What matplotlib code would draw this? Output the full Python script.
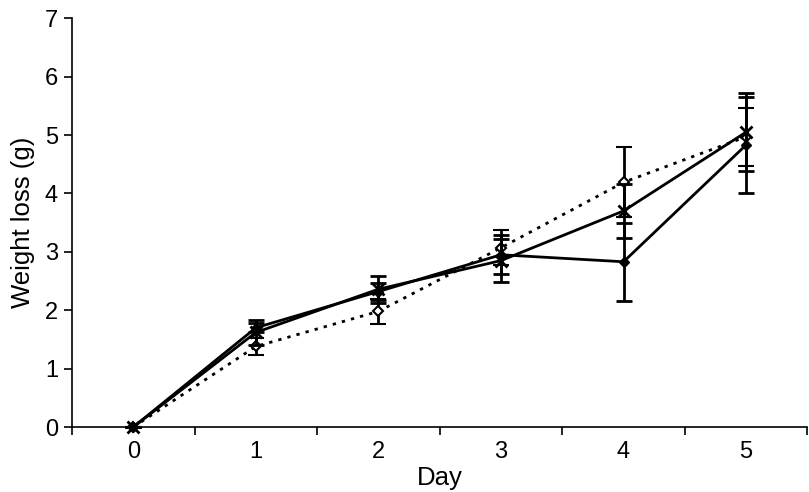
import matplotlib.pyplot as plt
import numpy as np

days = [0, 1, 2, 3, 4, 5]

# filled diamond, solid line
loss_a = [0, 1.70, 2.32, 2.95, 2.83, 4.83]
err_a = [0, 0.08, 0.15, 0.33, 0.67, 0.82]
# cross, solid line
loss_b = [0, 1.62, 2.36, 2.85, 3.70, 5.05]
err_b = [0, 0.22, 0.23, 0.37, 0.46, 0.67]
# open diamond, dotted line
loss_c = [0, 1.38, 1.98, 3.07, 4.19, 4.97]
err_c = [0, 0.15, 0.22, 0.30, 0.60, 0.50]

plt.rcParams['font.family'] = ['Liberation Sans', 'DejaVu Sans']

fig = plt.figure(figsize=(8.09, 4.92), dpi=100)
ax = fig.add_axes([0.089, 0.132, 0.909, 0.831])

x = np.array(days)
ax.errorbar(x, loss_c, yerr=err_c, color='black', linestyle=(0, (1.2, 2.2)),
            linewidth=2, marker='D', markersize=5.5, markerfacecolor='white',
            markeredgewidth=1.5, capsize=6, capthick=2, elinewidth=2, zorder=3)
ax.errorbar(x, loss_a, yerr=err_a, color='black', linestyle='-',
            linewidth=2, marker='D', markersize=5.5, markerfacecolor='black',
            capsize=6, capthick=2, elinewidth=2, zorder=4)
ax.errorbar(x, loss_b, yerr=err_b, color='black', linestyle='-',
            linewidth=2, marker='x', markersize=9, markeredgewidth=2,
            capsize=6, capthick=2, elinewidth=2, zorder=5)

ax.set_xlim(-0.5, 5.5)
ax.set_ylim(0, 7)
ax.set_yticks(range(0, 8))
ax.set_xticks(days)
ax.set_xticks(np.arange(-0.5, 5.6, 1), minor=True)
ax.tick_params(axis='x', which='major', length=0, labelsize=17, pad=10)
ax.tick_params(axis='x', which='minor', length=6, width=1.2, direction='out')
ax.tick_params(axis='y', length=6, width=1.2, labelsize=17, pad=4)

for s in ['top', 'right']:
    ax.spines[s].set_visible(False)
ax.spines['left'].set_linewidth(1.2)
ax.spines['bottom'].set_linewidth(1.2)

ax.set_xlabel('Day', fontsize=18.5, labelpad=2)
ax.set_ylabel('Weight loss (g)', fontsize=18.5, labelpad=7)

for c in ax.get_children():
    try:
        c.set_clip_on(False)
    except Exception:
        pass

plt.savefig('out.png', dpi=100)
